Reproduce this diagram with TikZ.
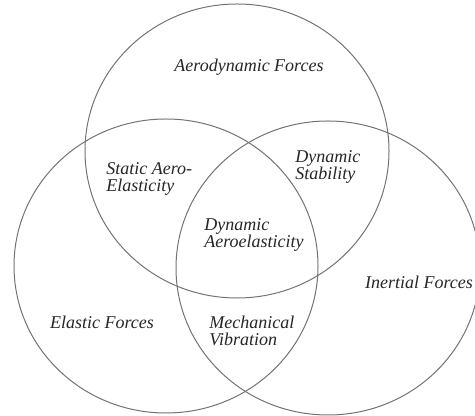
\documentclass[tikz,border=0pt]{standalone}
\usepackage{fontspec}
\setmainfont{Liberation Serif}
\begin{document}
\begin{tikzpicture}[x=0.5pt,y=0.5pt,
  set/.style={draw=black!55, line width=0.5pt},
  lbl/.style={font=\fontsize{9}{8.7}\selectfont\itshape, text=black!85, inner sep=0pt, align=left}]
\useasboundingbox (0,0) rectangle (475,416);
\draw[set] (237,265) ellipse [x radius=152, y radius=147];
\draw[set] (166,150) ellipse [x radius=152, y radius=147];
\draw[set] (328,148) ellipse [x radius=152, y radius=147];

\node[lbl] (aero) at (249,349) {Aerodynamic Forces};
\node[lbl, anchor=west] (static) at (106,237) {Static Aero-\\Elasticity};
\node[lbl, anchor=west] (stab) at (295,249) {Dynamic\\Stability};
\node[lbl, anchor=west] (dynae) at (204,181) {Dynamic\\Aeroelasticity};
\node[lbl] (inert) at (419,134) {Inertial Forces};
\node[lbl] (elast) at (102,94) {Elastic Forces};
\node[lbl, anchor=west] (mech) at (209,85) {Mechanical\\Vibration};
\end{tikzpicture}
\end{document}
